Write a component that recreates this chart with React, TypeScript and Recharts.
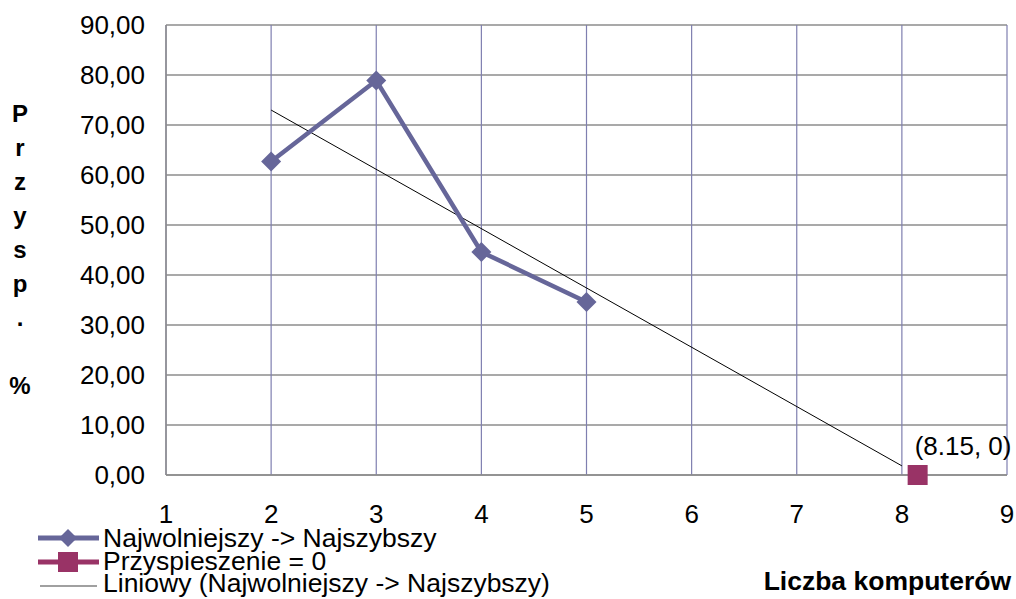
import React from "react";
import {
  LineChart,
  Line,
  XAxis,
  YAxis,
  CartesianGrid,
} from "recharts";

// Speed-up (%) measured for each number of computers
const computers = [2, 3, 4, 5];
const speedup = [62.7, 78.9, 44.6, 34.6];

// Point where the fitted trend reaches zero speed-up
const zeroPointX = [8.15];
const zeroPointY = [0];

// Range over which the linear trend is drawn
const trendRange = [2, 8];

const xTicks = [1, 2, 3, 4, 5, 6, 7, 8, 9];
const yTicks = [0, 10, 20, 30, 40, 50, 60, 70, 80, 90];

const seriesName = "Najwolniejszy -> Najszybszy";
const zeroName = "Przyspieszenie = 0";
const trendName = "Liniowy (Najwolniejszy -> Najszybszy)";
const yTitle = ["P", "r", "z", "y", "s", "p", ".", "", "%"];
const xTitle = "Liczba komputerów";

const mainData = computers.map((x, i) => ({ x, y: speedup[i] }));
const zeroData = zeroPointX.map((x, i) => ({ x, y: zeroPointY[i] }));

// Least-squares linear fit of the measured series
const n = computers.length;
const mx = computers.reduce((a, b) => a + b, 0) / n;
const my = speedup.reduce((a, b) => a + b, 0) / n;
const sxy = computers.reduce((a, x, i) => a + (x - mx) * (speedup[i] - my), 0);
const sxx = computers.reduce((a, x) => a + (x - mx) * (x - mx), 0);
const slope = sxy / sxx;
const intercept = my - slope * mx;
const trendData = trendRange.map((x) => ({ x, y: intercept + slope * x }));

const FONT = "'Liberation Sans', Arial, sans-serif";
const SERIES = "#666699";
const ZERO = "#993366";

const Diamond = (props: any) => {
  const { cx, cy } = props;
  if (cx == null || cy == null) return null;
  const r = 10;
  return (
    <path
      d={`M${cx},${cy - r}L${cx + r},${cy}L${cx},${cy + r}L${cx - r},${cy}Z`}
      fill={SERIES}
    />
  );
};

const SquareDot = (props: any) => {
  const { cx, cy } = props;
  if (cx == null || cy == null) return null;
  return <rect x={cx - 10} y={cy - 10} width={20} height={20} fill={ZERO} />;
};

const fmt = (v: number) => v.toFixed(2).replace(".", ",");

export default function App() {
  return (
    <div
      style={{
        position: "fixed",
        left: 0,
        top: 0,
        width: 1016,
        height: 599,
        background: "#fff",
        fontFamily: FONT,
        overflow: "hidden",
      }}
    >
      <LineChart
        width={1016}
        height={599}
        margin={{ top: 25, right: 9, bottom: 84, left: 0 }}
      >
        <CartesianGrid
          vertical={false}
          stroke="#8c8c8c"
          strokeWidth={1.5}
        />
        <CartesianGrid
          horizontal={false}
          stroke="#7f7fb0"
          strokeWidth={1.2}
        />
        <XAxis
          type="number"
          dataKey="x"
          domain={[1, 9]}
          ticks={xTicks}
          allowDataOverflow
          axisLine={{ stroke: "#8c8c8c", strokeWidth: 1.5 }}
          tickLine={false}
          tickSize={6}
          tickMargin={24}
          height={40}
          tick={{ fontSize: 26, fill: "#000", fontFamily: FONT }}
        />
        <YAxis
          type="number"
          domain={[0, 90]}
          ticks={yTicks}
          width={166}
          axisLine={{ stroke: "#8c8c8c", strokeWidth: 1.5 }}
          tickLine={false}
          tickSize={6}
          tickMargin={15}
          tickFormatter={fmt}
          tick={{ fontSize: 26, fill: "#000", fontFamily: FONT }}
        />
        <Line
          data={trendData}
          dataKey="y"
          stroke="#000"
          strokeWidth={1}
          dot={false}
          activeDot={false}
          isAnimationActive={false}
        />
        <Line
          data={mainData}
          dataKey="y"
          stroke={SERIES}
          strokeWidth={4.5}
          dot={<Diamond />}
          activeDot={false}
          isAnimationActive={false}
        />
        <Line
          data={zeroData}
          dataKey="y"
          stroke={ZERO}
          strokeWidth={4}
          dot={<SquareDot />}
          activeDot={false}
          isAnimationActive={false}
          label={(p: any) => (
            <text
              key="zero-label"
              x={p.x - 3}
              y={p.y - 20}
              fontSize={26}
              fontFamily={FONT}
              fill="#000"
            >
              {`(${zeroData[p.index].x}, ${zeroData[p.index].y})`}
            </text>
          )}
        />
      </LineChart>

      <svg
        width={1016}
        height={599}
        style={{ position: "absolute", left: 0, top: 0, pointerEvents: "none" }}
      >
        {/* vertical axis title, one letter per line */}
        <text
          fontSize={24}
          fontWeight="bold"
          fontFamily={FONT}
          textAnchor="middle"
          fill="#000"
        >
          {yTitle.map((ch, i) => (
            <tspan key={i} x={20} y={122 + i * 34}>
              {ch}
            </tspan>
          ))}
        </text>

        {/* horizontal axis title */}
        <text
          x={1011}
          y={590}
          fontSize={26.5}
          fontWeight="bold"
          fontFamily={FONT}
          textAnchor="end"
          fill="#000"
        >
          {xTitle}
        </text>

        {/* legend */}
        <g fontFamily={FONT} fontSize={26.5} fill="#000">
          <line x1={38} y1={538} x2={99} y2={538} stroke={SERIES} strokeWidth={5} />
          <path d="M68,529L77,538L68,547L59,538Z" fill={SERIES} />
          <text x={103} y={547}>{seriesName}</text>

          <line x1={38} y1={562} x2={99} y2={562} stroke={ZERO} strokeWidth={5} />
          <rect x={58} y={552} width={20} height={20} fill={ZERO} />
          <text x={103} y={569.5}>{zeroName}</text>

          <line x1={40} y1={586} x2={97} y2={586} stroke="#808080" strokeWidth={1.5} />
          <text x={103} y={592}>{trendName}</text>
        </g>
      </svg>
    </div>
  );
}
